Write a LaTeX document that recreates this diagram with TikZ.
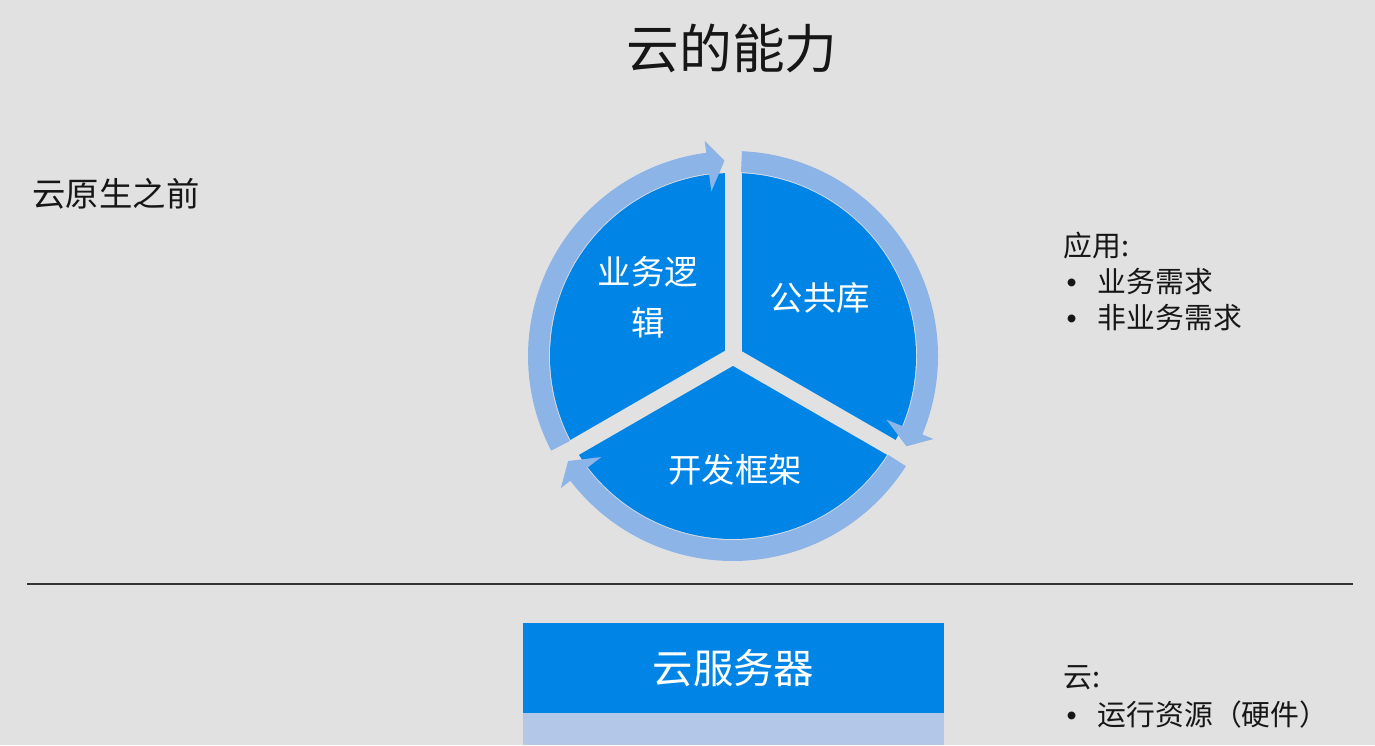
\documentclass[tikz,border=0pt]{standalone}
\usepackage{fontspec}
\setmainfont{Noto Sans CJK SC}
\newfontfamily\bulfont{Liberation Sans}
\usetikzlibrary{calc}
\definecolor{bg}{RGB}{225,225,225}
\definecolor{pie}{RGB}{0,133,230}
\definecolor{ringc}{RGB}{141,180,230}
\definecolor{pale}{RGB}{179,200,232}
\definecolor{txt}{RGB}{22,22,22}
\newcommand{\bul}{\makebox[0.34cm][l]{\hspace{0.03cm}\bulfont •}}

\begin{document}
\begin{tikzpicture}[
    lbl/.style={inner sep=0pt, text=txt, font=\fontsize{8.2}{10}\selectfont},
    item/.style={lbl, anchor=west},
    sec/.style={inner sep=0pt, text=white, font=\fontsize{9.5}{14.5}\selectfont, align=center}
  ]
  \fill[bg] (0,0) rectangle (13.75,7.45);
  \useasboundingbox (0,0) rectangle (13.75,7.45);

  \node[inner sep=0pt, text=txt, font=\fontsize{15}{18}\selectfont] (title) at (7.32,6.97) {云的能力};
  \node[inner sep=0pt, text=txt, font=\fontsize{9.5}{12}\selectfont] (pre) at (1.16,5.51) {云原生之前};

  % pie with three parts
  \coordinate (c) at (7.33,3.89);
  \fill[pie] (c) circle[radius=1.83];
  \foreach \a in {90,210,330}
    \draw[bg, line width=0.17cm] (c) -- ++(\a:1.86);
  \begin{scope}[shift={(c)}]
    \foreach \s/\e [evaluate=\e as \b using \e+5] in {207.5/92.5, 87.5/-27.5, -32.5/-147.5}
      \fill[ringc] (\s:1.84) arc[start angle=\s, end angle=\b, radius=1.84] -- (\b:1.66) -- (\e:1.955)
        -- (\b:2.17) -- (\b:2.05) arc[start angle=\b, end angle=\s, radius=2.05] -- cycle;
  \end{scope}
  \node[sec] (s1) at (6.48,4.475) {业务逻\\辑};
  \node[sec] (s2) at (8.20,4.47) {公共库};
  \node[sec] (s3) at (7.35,2.75) {开发框架};

  \node[item] (app) at (10.63,4.99) {应用:};
  \node[item] (i1) at (10.63,4.63) {\bul 业务需求};
  \node[item] (i2) at (10.63,4.27) {\bul 非业务需求};

  \draw[line width=0.02cm, black!80] (0.27,1.61) -- (13.53,1.61);

  \fill[pale] (5.23,0) rectangle (9.44,0.32);
  \node[fill=pie, inner sep=0pt, minimum width=4.21cm, minimum height=0.9cm, text=white,
    font=\fontsize{11.5}{14}\selectfont] (srv) at (7.335,0.77) {云服务器};

  \node[item] (cl) at (10.63,0.67) {云:};
  \node[item] (i3) at (10.63,0.30) {\bul 运行资源（硬件）};
\end{tikzpicture}
\end{document}
